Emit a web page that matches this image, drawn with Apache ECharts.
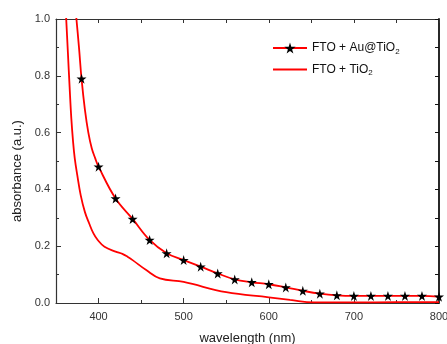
<!DOCTYPE html>
<html>
<head>
<meta charset="utf-8">
<script src="https://cdn.jsdelivr.net/npm/echarts@6/dist/echarts.min.js"></script>
<style>
  html, body { margin: 0; padding: 0; background: #fff; }
  #chart { width: 447px; height: 344px; }
</style>
</head>
<body>
<div id="chart"></div>
<script>
// FTO + Au@TiO2: star markers every 20 nm
const starWl = [380, 400, 420, 440, 460, 480, 500, 520, 540, 560, 580, 600, 620, 640, 660, 680, 700, 720, 740, 760, 780, 800];
const starAbs = [0.79, 0.48, 0.368, 0.296, 0.222, 0.175, 0.151, 0.128, 0.104, 0.083, 0.073, 0.066, 0.055, 0.043, 0.033, 0.027, 0.025, 0.025, 0.025, 0.025, 0.025, 0.022];
// extra points on the steep part of the same curve (no marker)
const auEdgeWl = [371, 374, 377, 384, 388, 392, 396];
const auEdgeAbs = [1.1, 1.0, 0.9, 0.68, 0.6, 0.545, 0.51];

// FTO + TiO2
const tioWl = [360, 362, 364, 366, 368, 370, 372, 375, 379, 384, 389, 394, 399, 407, 420, 428, 434, 440, 456, 472, 500, 550, 600, 625, 653, 700, 750, 800];
const tioAbs = [1.12, 1.0, 0.88, 0.76, 0.65, 0.57, 0.51, 0.45, 0.38, 0.32, 0.28, 0.245, 0.222, 0.198, 0.181, 0.173, 0.163, 0.151, 0.116, 0.087, 0.074, 0.038, 0.02, 0.011, 0.002, 0.002, 0.003, 0.003];

const starPath = 'path://M50,0 L61,35 L98,35 L68,57 L79,91 L50,70 L21,91 L32,57 L2,35 L39,35 Z';

const auData = starWl.map((w, i) => ({ value: [w, starAbs[i]] }))
  .concat(auEdgeWl.map((w, i) => ({ value: [w, auEdgeAbs[i]], symbol: 'none' })))
  .sort((a, b) => a.value[0] - b.value[0]);
const tioData = tioWl.map((w, i) => [w, tioAbs[i]]);

const axisColor = '#333';
const font = 'Liberation Sans, Arial, sans-serif';

const chart = echarts.init(document.getElementById('chart'));
chart.setOption({
  animation: false,
  backgroundColor: '#fff',
  grid: { left: 56, right: 8, top: 19, bottom: 41, outerBoundsMode: 'none', containLabel: false },
  legend: {
    orient: 'vertical',
    left: 267,
    top: 37,
    itemWidth: 34,
    itemHeight: 14,
    itemGap: 8,
    data: ['au', { name: 'tio', itemStyle: { opacity: 0 } }],
    formatter: (name) => name === 'au' ? '{t|FTO + Au@TiO}{s|2}' : '{t|FTO + TiO}{s|2}',
    textStyle: {
      rich: {
        t: { fontFamily: font, fontSize: 12, color: '#111' },
        s: { fontFamily: font, fontSize: 8, color: '#111', padding: [7, 0, 0, 0] }
      }
    }
  },
  xAxis: [
    {
      type: 'value', position: 'bottom', min: 350, max: 800,
      minInterval: 100, maxInterval: 100,
      name: 'wavelength (nm)', nameLocation: 'middle', nameGap: 29,
      nameTextStyle: { fontFamily: font, fontSize: 13, color: '#222' },
      axisLine: { lineStyle: { color: axisColor, width: 1.2 } },
      axisTick: { inside: true, length: 5, lineStyle: { color: axisColor } },
      axisLabel: { showMinLabel: false, fontFamily: font, fontSize: 11, color: '#333', margin: 8 },
      splitLine: { show: false }
    },
    {
      type: 'value', position: 'bottom', min: 350, max: 800, interval: 50,
      axisLine: { show: false },
      axisTick: { inside: true, length: 3, lineStyle: { color: axisColor } },
      axisLabel: { show: false },
      splitLine: { show: false }
    },
    {
      type: 'value', position: 'top', min: 350, max: 800, interval: 50,
      axisLine: { lineStyle: { color: axisColor, width: 1.2 } },
      axisTick: { inside: true, length: 4, lineStyle: { color: axisColor } },
      axisLabel: { show: false },
      splitLine: { show: false }
    }
  ],
  yAxis: [
    {
      type: 'value', position: 'left', min: 0, max: 1, interval: 0.2,
      name: 'absorbance (a.u.)', nameLocation: 'middle', nameGap: 27,
      nameTextStyle: { fontFamily: font, fontSize: 13, color: '#222', padding: [0, 20, 0, 0] },
      axisLine: { lineStyle: { color: axisColor, width: 1.2 } },
      axisTick: { inside: true, length: 5, lineStyle: { color: axisColor } },
      minorTick: { show: true, splitNumber: 2, length: 3, lineStyle: { color: axisColor } },
      axisLabel: { formatter: (v) => v.toFixed(1), fontFamily: font, fontSize: 11, color: '#333', margin: 6 },
      splitLine: { show: false }
    },
    {
      type: 'value', position: 'right', min: 0, max: 1, interval: 0.1,
      axisLine: { lineStyle: { color: '#111', width: 1.8 } },
      axisTick: { inside: true, length: 4, lineStyle: { color: '#111' } },
      axisLabel: { show: false },
      splitLine: { show: false }
    }
  ],
  series: [
    {
      name: 'au', type: 'line', xAxisIndex: 0, yAxisIndex: 0,
      data: auData,
      smooth: 0.4,
      symbol: starPath, symbolSize: 10,
      itemStyle: { color: '#000' },
      lineStyle: { color: '#f00', width: 1.8 },
      z: 3
    },
    {
      name: 'tio', type: 'line', xAxisIndex: 0, yAxisIndex: 0,
      data: tioData,
      smooth: 0.4,
      symbol: 'none',
      itemStyle: { color: '#f00' },
      lineStyle: { color: '#f00', width: 1.8 },
      z: 2
    }
  ]
});
</script>
</body>
</html>
